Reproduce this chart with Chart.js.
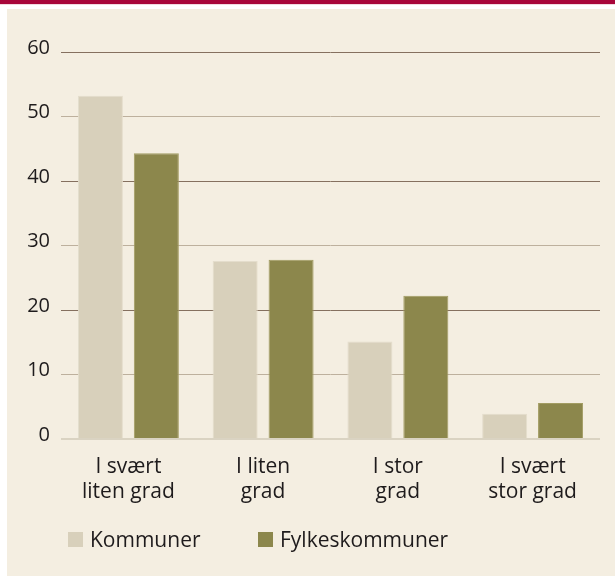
<!DOCTYPE html>
<html>
<head>
<meta charset="utf-8">
<script src="https://cdn.jsdelivr.net/npm/chart.js@4/dist/chart.umd.min.js"></script>
<style>
  html, body { margin: 0; padding: 0; width: 615px; height: 576px; overflow: hidden; background: #ffffff; font-family: "Open Sans", sans-serif; }
  #topbar { position: absolute; left: 0; top: 0; width: 615px; height: 4px; background: #A8063A; }
  #topline { position: absolute; left: 0; top: 4px; width: 615px; height: 1px; background: #F1D9DF; }
  #panel { position: absolute; left: 7px; top: 9px; width: 608px; height: 567px; background: #F4EEE1; }
  #wrap { position: absolute; left: 0; top: 0; width: 615px; height: 576px; }
  #legend { position: absolute; left: 0; top: 0; width: 615px; height: 576px; pointer-events: none; }
  .lg-box { position: absolute; width: 15px; height: 15px; }
  .lg-text { position: absolute; font-size: 21px; color: #1E1B1C; line-height: 21px; white-space: nowrap; }
</style>
</head>
<body>
<div id="topbar"></div>
<div id="topline"></div>
<div id="panel"></div>
<div id="wrap"><canvas id="c" width="615" height="576"></canvas></div>
<div id="legend"></div>
<script>
const categories = [["I svært", "liten grad"], ["I liten", "grad"], ["I stor", "grad"], ["I svært", "stor grad"]];
const seriesNames = ["Kommuner", "Fylkeskommuner"];
const kommuner = [53.2, 27.6, 15.1, 3.9];
const fylkeskommuner = [44.3, 27.8, 22.2, 5.6];
const yTicks = [0, 10, 20, 30, 40, 50, 60];

const fillColors = ["#D8D0BB", "#8C874C"];
const borderColors = ["#E4DDCC", "#A29C62"];
const textColor = "#1E1B1C";
const FONT = "'Open Sans', sans-serif";

const chart = new Chart(document.getElementById("c"), {
  type: "bar",
  data: {
    labels: categories,
    datasets: [
      { label: seriesNames[0], data: kommuner, backgroundColor: fillColors[0], borderColor: borderColors[0], borderWidth: 1, categoryPercentage: 0.83, barPercentage: 0.805 },
      { label: seriesNames[1], data: fylkeskommuner, backgroundColor: fillColors[1], borderColor: borderColors[1], borderWidth: 1, categoryPercentage: 0.83, barPercentage: 0.805 }
    ]
  },
  options: {
    responsive: false,
    devicePixelRatio: 1,
    animation: false,
    layout: { padding: { left: 0, right: 15, top: 52, bottom: 0 } },
    plugins: { legend: { display: false }, tooltip: { enabled: false } },
    scales: {
      x: {
        grid: { display: false, drawTicks: false },
        border: { display: false },
        ticks: { color: textColor, font: { family: FONT, size: 21, lineHeight: "25px" }, padding: 16, maxRotation: 0, autoSkip: false },
        afterFit: (s) => { s.height = 576 - 439; }
      },
      y: {
        min: 0, max: 60,
        afterBuildTicks: (s) => { s.ticks = yTicks.map(v => ({ value: v })); },
        grid: {
          drawTicks: false,
          color: (ctx) => ctx.tick.value === 0 ? "#DAD3C2" : (ctx.tick.value % 20 === 0 ? "#85705F" : "#BDB09D"),
          lineWidth: (ctx) => ctx.tick.value === 0 ? 2 : 1
        },
        border: { display: false },
        ticks: { color: textColor, font: { family: FONT, size: 20 }, padding: 11, labelOffset: -4 },
        afterFit: (s) => { s.width = 61; }
      }
    }
  }
});

// Legend built from the chart's datasets
const lg = document.getElementById("legend");
const legendPos = [{ box: 68, text: 90 }, { box: 258, text: 280 }];
chart.data.datasets.forEach((ds, i) => {
  const b = document.createElement("div");
  b.className = "lg-box";
  b.style.left = legendPos[i].box + "px";
  b.style.top = "532px";
  b.style.background = ds.backgroundColor;
  lg.appendChild(b);
  const t = document.createElement("div");
  t.className = "lg-text";
  t.style.left = legendPos[i].text + "px";
  t.style.top = "529px";
  t.textContent = ds.label;
  lg.appendChild(t);
});
</script>
</body>
</html>
